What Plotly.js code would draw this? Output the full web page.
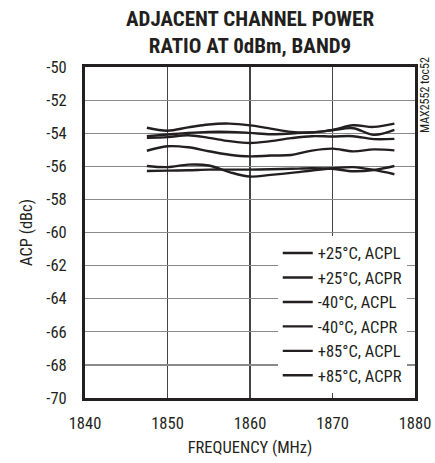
<!DOCTYPE html>
<html>
<head>
<meta charset="utf-8">
<script src="https://cdn.plot.ly/plotly-3.0.1.min.js"></script>
<style>html,body{margin:0;padding:0;background:#fff;}#chart{width:435px;height:463px;}</style>
</head>
<body>
<div id="chart"></div>
<script>
const freq = [1847.5, 1850, 1852.5, 1855, 1857.5, 1860, 1862.5, 1865, 1867.5, 1870, 1872.5, 1875, 1877.5];
const seriesNames = ["+25°C, ACPL", "+25°C, ACPR", "-40°C, ACPL", "-40°C, ACPR", "+85°C, ACPL", "+85°C, ACPR"];
const acp25L = [-53.67, -53.85, -53.65, -53.47, -53.42, -53.53, -53.72, -53.92, -53.95, -53.8, -53.52, -53.62, -53.42];
const acp25R = [-54.18, -54.08, -53.98, -53.92, -53.92, -53.98, -54.06, -54.02, -53.95, -53.82, -53.7, -54.1, -53.8];
const acpM40L = [-54.28, -54.24, -54.12, -54.28, -54.48, -54.59, -54.48, -54.3, -54.18, -54.2, -54.18, -54.36, -54.34];
const acpM40R = [-55.06, -54.79, -54.85, -55.09, -55.3, -55.4, -55.35, -55.32, -55.05, -54.93, -55.1, -54.98, -55.04];
const acp85L = [-55.98, -56.05, -55.9, -55.95, -56.35, -56.62, -56.52, -56.4, -56.25, -56.12, -56.05, -56.22, -56.48];
const acp85R = [-56.28, -56.26, -56.24, -56.2, -56.2, -56.2, -56.18, -56.15, -56.12, -56.15, -56.3, -56.22, -55.98];
const seriesValues = [acp25L, acp25R, acpM40L, acpM40R, acp85L, acp85R];
const xTicks = [1840, 1850, 1860, 1870, 1880];
const yTicks = [-50, -52, -54, -56, -58, -60, -62, -64, -66, -68, -70];

const ink = '#231f20';
const fontFam = '"Roboto Condensed", "Liberation Sans Narrow", Roboto, sans-serif';

const traces = seriesNames.map((name, i) => ({
  x: freq, y: seriesValues[i], name: name, type: 'scatter', mode: 'lines',
  line: {color: ink, width: 2.4, shape: 'spline', smoothing: 1.0}
}));

const layout = {
  width: 435, height: 463,
  margin: {l: 85, r: 20, t: 67, b: 65},
  paper_bgcolor: '#fff', plot_bgcolor: '#fff',
  font: {family: fontFam, color: ink, size: 16.5},
  title: {
    text: '<b>ADJACENT CHANNEL POWER<br>RATIO AT 0dBm, BAND9</b>',
    font: {family: fontFam, size: 21, color: ink},
    x: 0.5, xref: 'paper', xanchor: 'center',
    y: 1 - 26 / 463, yref: 'container', yanchor: 'middle'
  },
  xaxis: {
    range: [1840, 1880], tickvals: xTicks, ticktext: xTicks.map(String),
    showgrid: true, gridcolor: '#444444', gridwidth: 1.5,
    showline: true, linecolor: ink, linewidth: 3, mirror: true,
    ticks: '', ticklabelstandoff: 8, zeroline: false,
    title: {text: 'FREQUENCY (MHz)', font: {family: fontFam, size: 16.5, color: ink}, standoff: 10}
  },
  yaxis: {
    range: [-70, -50], tickvals: yTicks, ticktext: yTicks.map(String),
    showgrid: true, gridcolor: '#8a8a8a', gridwidth: 1.2,
    showline: true, linecolor: ink, linewidth: 3, mirror: true,
    ticks: '', ticklabelstandoff: 12, zeroline: false,
    title: {text: 'ACP (dBc)', font: {family: fontFam, size: 16.5, color: ink}, standoff: 10}
  },
  legend: {
    x: 0.975, xanchor: 'right', y: 0.49, yanchor: 'top',
    bgcolor: '#fff', borderwidth: 0,
    font: {family: fontFam, size: 16.5, color: ink},
    tracegroupgap: 0, itemwidth: 30
  },
  annotations: [{
    text: 'MAX2552 toc52', xref: 'paper', yref: 'paper', x: 1.03, y: 0.915,
    xanchor: 'center', yanchor: 'middle', textangle: -90, showarrow: false,
    font: {family: fontFam, size: 12, color: ink}
  }],
  showlegend: true
};

Plotly.newPlot('chart', traces, layout, {displayModeBar: false, staticPlot: true});
</script>
</body>
</html>
